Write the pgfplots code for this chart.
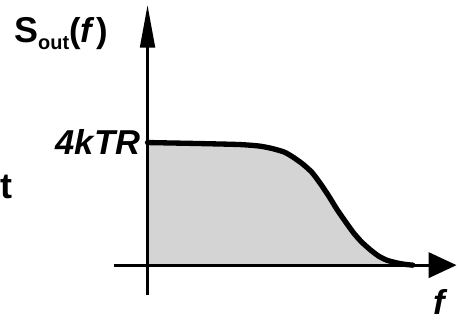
\documentclass[border=0pt]{standalone}
\usepackage{fontspec}
\setmainfont{Liberation Sans}
\usepackage{pgfplots}
\pgfplotsset{compat=1.18}
\usetikzlibrary{arrows.meta}

% output noise spectrum of a low-pass filtered resistor
\pgfplotstableread{
px   y
148  179
200  178
240  177
260  175.5
273  173
285  169.5
293  165
303  158
313  149
322  137
330  125
338  112
347  99
355  88
363  79
372  71
380  65
388  61
397  58.5
405  57
414  56
}\spectrum

\begin{document}
\begin{tikzpicture}
\begin{axis}[
  scale only axis,
  width=343.5pt, height=241.5pt,
  xmin=0, xmax=458, ymin=0, ymax=322,
  hide axis, clip=false,
]
\path (axis cs:0,0) rectangle (axis cs:458,322);
% shaded area
\addplot[fill=black!17, draw=none] table[x=px, y=y] {\spectrum} |- (axis cs:148,56) -- cycle;
% axes
\addplot[line width=2.2pt, -{Triangle[length=32pt, width=11pt]}] coordinates {(148,26) (148,317)};
\addplot[line width=2.2pt, -{Triangle[length=21pt, width=19pt]}] coordinates {(114,56) (458,56)};
% curve
\addplot[line width=4pt, smooth, tension=0.4, line cap=round] table[x=px, y=y] {\spectrum};
% labels
\node[anchor=base west, inner sep=0pt] at (axis cs:14,279)
  {\bfseries\fontsize{27}{30}\selectfont S\raisebox{-5pt}{\fontsize{15}{18}\selectfont out}{\fontsize{26}{30}\selectfont(\textit{f}\kern1pt)}};
\node[anchor=base east, inner sep=0pt] at (axis cs:141,167)
  {\bfseries\itshape\fontsize{26}{30}\selectfont 4kTR};
\node[anchor=base, inner sep=0pt] at (axis cs:441,7)
  {\bfseries\itshape\fontsize{26}{30}\selectfont f};
\node[anchor=base west, inner sep=0pt] at (axis cs:0,123)
  {\bfseries\fontsize{27}{30}\selectfont t};
\end{axis}
\end{tikzpicture}
\end{document}
